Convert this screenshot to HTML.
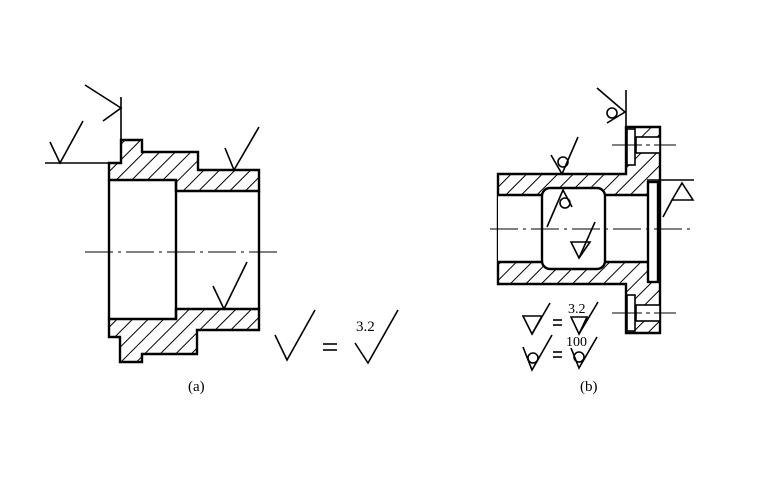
<!DOCTYPE html>
<html><head><meta charset="utf-8"><style>
html,body{margin:0;padding:0;background:#fff}
svg{display:block}
text{font-family:"Liberation Serif",serif;fill:#000}
</style></head><body>
<svg width="780" height="480" viewBox="0 0 780 480" xmlns="http://www.w3.org/2000/svg">
<defs>
<pattern id="h" patternUnits="userSpaceOnUse" width="11" height="11" patternTransform="rotate(45)">
<rect width="11" height="11" fill="#fff"/><line x1="0" y1="0" x2="0" y2="11" stroke="#000" stroke-width="2"/>
</pattern>
</defs>
<g stroke="#000" stroke-width="2.4" fill="none" stroke-linejoin="miter">
<!-- (a) -->
<path d="M109,180 L109,163 L121,163 L121,140 L142,140 L142,152 L198,152 L198,170 L259,170 L259,191 L176,191 L176,180 Z" fill="url(#h)"/>
<path d="M109,319 L109,337 L120,337 L120,362 L142,362 L142,354 L197,354 L197,330 L259,330 L259,309 L176,309 L176,319 Z" fill="url(#h)"/>
<line x1="109" y1="180" x2="109" y2="319"/>
<line x1="176" y1="180" x2="176" y2="319"/>
<line x1="259" y1="191" x2="259" y2="309"/>
<line x1="85" y1="252" x2="277" y2="252" stroke-width="1" stroke-dasharray="28,5,3,5"/>
<g stroke-width="1.6">
<line x1="45" y1="163" x2="109" y2="163"/>
<polyline points="50,142 60,163 83,121"/>
<line x1="121" y1="140" x2="121" y2="97"/>
<polyline points="85,85 121,108 103,121"/>
<polyline points="225,148 234,170 259,127"/>
<polyline points="213,286 224,309 247,262"/>
<polyline points="275,335 287,360 315,310"/>
<line x1="323" y1="344" x2="337" y2="344"/>
<line x1="323" y1="350" x2="337" y2="350"/>
<polyline points="355,343 368,363 398,310"/>
</g>
<!-- (b) -->
<path d="M498,174 L626,174 L626,127 L660,127 L660,333 L626,333 L626,284 L498,284 Z" fill="url(#h)"/>
<rect x="498" y="195" width="150" height="67" fill="#fff" stroke="none"/>
<line x1="498" y1="195" x2="542" y2="195"/><line x1="605" y1="195" x2="648" y2="195"/>
<line x1="498" y1="262" x2="542" y2="262"/><line x1="605" y1="262" x2="648" y2="262"/>
<rect x="542" y="188" width="63" height="81" rx="8" fill="#fff"/>
<rect x="648" y="182" width="10" height="100" fill="#fff"/>
<rect x="627" y="129" width="8" height="36" fill="#fff" stroke-width="1.6"/>
<rect x="636" y="137" width="24" height="16" fill="#fff" stroke-width="1.6"/>
<rect x="627" y="295" width="8" height="36" fill="#fff" stroke-width="1.6"/>
<rect x="636" y="305" width="24" height="16" fill="#fff" stroke-width="1.6"/>
<line x1="490" y1="229" x2="690" y2="229" stroke-width="1" stroke-dasharray="28,5,3,5"/>
<line x1="612" y1="145" x2="676" y2="145" stroke-width="1" stroke-dasharray="30,4,4,4"/>
<line x1="612" y1="313" x2="676" y2="313" stroke-width="1" stroke-dasharray="30,4,4,4"/>
<g stroke-width="1.6">
<line x1="626" y1="90" x2="626" y2="127"/>
<polyline points="597,88 625,112 607,123"/>
<circle cx="612" cy="113" r="5"/>
<polyline points="551,155 562,174 578,137"/>
<circle cx="563" cy="162" r="5"/>
<polyline points="547,227 563,190 572,207"/>
<circle cx="565" cy="203" r="5"/>
<polyline points="579,258 595,222"/>
<polygon points="571,242 590,242 579,258"/>
<line x1="647" y1="180" x2="694" y2="180"/>
<polygon points="682,183 672,200 693,200"/>
<line x1="672" y1="200" x2="663" y2="217"/>
<polygon points="523,316 542,316 532,334"/>
<line x1="532" y1="334" x2="550" y2="303"/>
<line x1="553" y1="320" x2="562" y2="320"/><line x1="553" y1="325" x2="562" y2="325"/>
<polygon points="571,317 587,317 579,334"/>
<line x1="579" y1="334" x2="598" y2="302"/>
<polyline points="523,347 532,370 552,335"/>
<circle cx="533" cy="358" r="5"/>
<line x1="553" y1="352" x2="562" y2="352"/><line x1="553" y1="357" x2="562" y2="357"/>
<polyline points="571,348 579,368 597,337"/>
<circle cx="579" cy="357" r="5"/>
</g>
</g>
<text x="356" y="331" font-size="15">3.2</text>
<text x="568" y="313" font-size="14">3.2</text>
<text x="566" y="346" font-size="14">100</text>
<text x="188" y="391" font-size="15">(a)</text>
<text x="580" y="391" font-size="15">(b)</text>
</svg>
</body></html>
